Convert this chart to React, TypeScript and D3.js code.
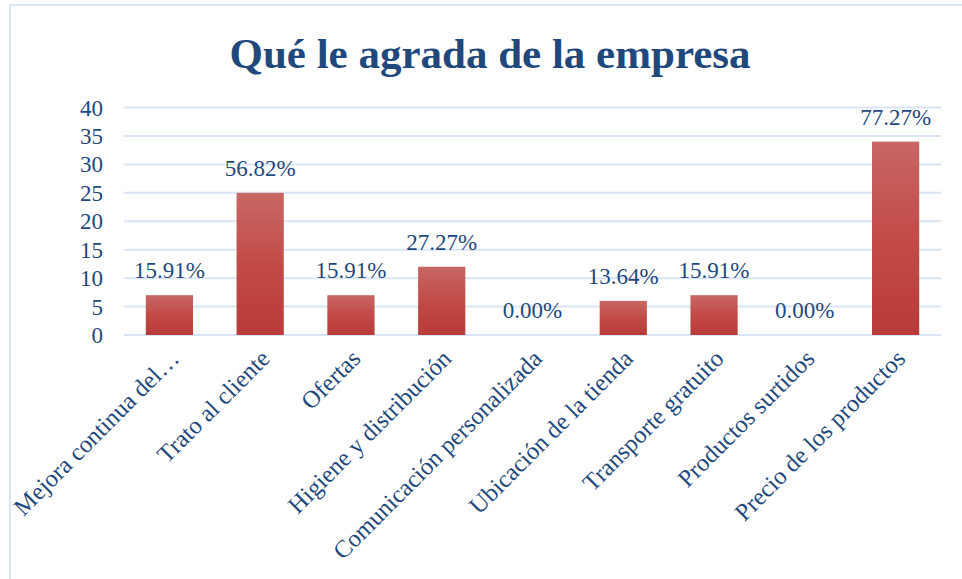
import React, { useRef, useEffect } from "react";
import * as d3 from "d3";

const categories = [
  "Mejora continua del…",
  "Trato al cliente",
  "Ofertas",
  "Higiene y distribución",
  "Comunicación personalizada",
  "Ubicación de la tienda",
  "Transporte gratuito",
  "Productos surtidos",
  "Precio de los productos",
];
const counts = [7, 25, 7, 12, 0, 6, 7, 0, 34];
const percentLabels = [
  "15.91%",
  "56.82%",
  "15.91%",
  "27.27%",
  "0.00%",
  "13.64%",
  "15.91%",
  "0.00%",
  "77.27%",
];
const yTicks = [0, 5, 10, 15, 20, 25, 30, 35, 40];

const W = 962;
const H = 579;
const textColor = "#1f497d";
const gridColor = "#d9e5f4";
const font = "'Liberation Serif', 'Times New Roman', serif";

export default function App() {
  const svgRef = useRef<SVGSVGElement>(null);

  useEffect(() => {
    const svg = d3.select(svgRef.current);
    svg.selectAll("*").remove();

    const x = d3
      .scaleBand<string>()
      .domain(categories)
      .range([124, 941])
      .paddingInner(0.48)
      .paddingOuter(0.24);
    const y = d3.scaleLinear().domain([0, 40]).range([335, 107.5]);

    const defs = svg.append("defs");
    const grad = defs
      .append("linearGradient")
      .attr("id", "barGrad")
      .attr("x1", 0)
      .attr("y1", 0)
      .attr("x2", 0)
      .attr("y2", 1);
    grad.append("stop").attr("offset", "0%").attr("stop-color", "#c76764");
    grad.append("stop").attr("offset", "50%").attr("stop-color", "#c24b47");
    grad.append("stop").attr("offset", "100%").attr("stop-color", "#b83b38");

    // chart border
    svg
      .append("rect")
      .attr("x", 10)
      .attr("y", 5)
      .attr("width", 1000)
      .attr("height", 1000)
      .attr("fill", "none")
      .attr("stroke", gridColor)
      .attr("stroke-width", 2);

    svg
      .append("text")
      .attr("x", 490)
      .attr("y", 68)
      .attr("text-anchor", "middle")
      .attr("font-family", font)
      .attr("font-weight", "bold")
      .attr("font-size", 43)
      .attr("fill", textColor)
      .text("Qué le agrada de la empresa");

    // gridlines
    svg
      .selectAll(".grid")
      .data(yTicks)
      .join("line")
      .attr("class", "grid")
      .attr("x1", 124)
      .attr("x2", 941)
      .attr("y1", (d) => y(d))
      .attr("y2", (d) => y(d))
      .attr("stroke", gridColor)
      .attr("stroke-width", 2);

    svg
      .selectAll(".ytick")
      .data(yTicks)
      .join("text")
      .attr("class", "ytick")
      .attr("x", 103)
      .attr("y", (d) => y(d))
      .attr("dy", "0.35em")
      .attr("text-anchor", "end")
      .attr("font-family", font)
      .attr("font-size", 23)
      .attr("fill", textColor)
      .text((d) => d);

    svg
      .selectAll(".bar")
      .data(counts)
      .join("rect")
      .attr("class", "bar")
      .attr("x", (_, i) => x(categories[i])!)
      .attr("width", x.bandwidth())
      .attr("y", (d) => y(d))
      .attr("height", (d) => y(0) - y(d))
      .attr("fill", "url(#barGrad)");

    svg
      .selectAll(".dlabel")
      .data(counts)
      .join("text")
      .attr("class", "dlabel")
      .attr("x", (_, i) => x(categories[i])! + x.bandwidth() / 2)
      .attr("y", (d) => y(d) - 17)
      .attr("text-anchor", "middle")
      .attr("font-family", font)
      .attr("font-size", 23)
      .attr("fill", textColor)
      .text((_, i) => percentLabels[i]);

    svg
      .selectAll(".xlabel")
      .data(categories)
      .join("text")
      .attr("class", "xlabel")
      .attr(
        "transform",
        (d) => `translate(${x(d)! + x.bandwidth() / 2 + 5},354) rotate(-45)`
      )
      .attr("dy", "0.35em")
      .attr("text-anchor", "end")
      .attr("font-family", font)
      .attr("font-size", 24.5)
      .attr("fill", textColor)
      .text((d) => d);
  }, []);

  return (
    <svg
      ref={svgRef}
      width={W}
      height={H}
      style={{ position: "absolute", left: 0, top: 0, background: "#fff" }}
    />
  );
}
